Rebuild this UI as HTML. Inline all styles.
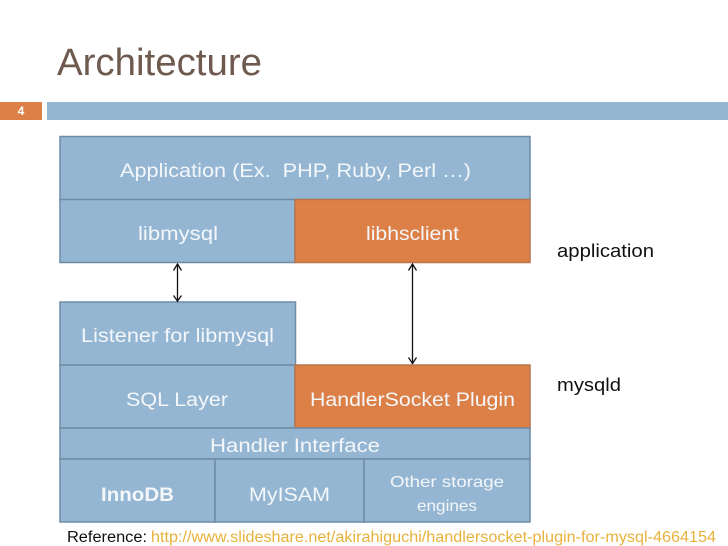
<!DOCTYPE html>
<html>
<head>
<meta charset="utf-8">
<style>
html,body{margin:0;padding:0;background:#fff}
svg{display:block}
text{font-family:"Liberation Sans",sans-serif}
.w{fill:#f4f7fa;font-size:19px}
</style>
</head>
<body>
<svg width="728" height="546" viewBox="0 0 728 546" xmlns="http://www.w3.org/2000/svg">
<rect width="728" height="546" fill="#fff"/>
<text x="57" y="75" font-size="38" fill="#6f5a50" textLength="205" lengthAdjust="spacingAndGlyphs">Architecture</text>
<rect x="0" y="102" width="42" height="18" fill="#dd8047"/>
<rect x="47" y="102" width="681" height="18" fill="#94b6d2"/>
<text x="21" y="115" font-size="12" font-weight="bold" fill="#fff" text-anchor="middle">4</text>

<g stroke="#6f8ba5" stroke-width="1.5">
<rect x="60" y="136.500" width="470" height="63" fill="#94b6d2"/>
<rect x="60" y="199.500" width="235" height="63" fill="#94b6d2"/>
<rect x="295" y="199.500" width="235" height="63" fill="#dd8047" stroke="#b9754c"/>
<rect x="60" y="302" width="235.500" height="63" fill="#94b6d2"/>
<rect x="60" y="365" width="235" height="63" fill="#94b6d2"/>
<rect x="295" y="365" width="235" height="63" fill="#dd8047" stroke="#b9754c"/>
<rect x="60" y="428" width="470" height="31" fill="#94b6d2"/>
<rect x="60" y="459" width="155" height="63" fill="#94b6d2"/>
<rect x="215" y="459" width="149" height="63" fill="#94b6d2"/>
<rect x="364" y="459" width="166" height="63" fill="#94b6d2"/>
</g>

<g class="w">
<text class="w" x="120" y="177" textLength="351" lengthAdjust="spacingAndGlyphs">Application (Ex.&#160; PHP, Ruby, Perl …)</text>
<text class="w" x="138" y="240" textLength="80" lengthAdjust="spacingAndGlyphs">libmysql</text>
<text class="w" x="366" y="240" textLength="93" lengthAdjust="spacingAndGlyphs">libhsclient</text>
<text class="w" x="81" y="342" textLength="193" lengthAdjust="spacingAndGlyphs">Listener for libmysql</text>
<text class="w" x="126" y="406" textLength="102" lengthAdjust="spacingAndGlyphs">SQL Layer</text>
<text class="w" x="310" y="406" textLength="205" lengthAdjust="spacingAndGlyphs">HandlerSocket Plugin</text>
<text class="w" x="210" y="452" textLength="170" lengthAdjust="spacingAndGlyphs">Handler Interface</text>
<text class="w" x="101" y="501" font-weight="bold" textLength="73" lengthAdjust="spacingAndGlyphs">InnoDB</text>
<text class="w" x="249" y="501" textLength="81" lengthAdjust="spacingAndGlyphs">MyISAM</text>
<text class="w" x="390" y="487" style="font-size:16px" textLength="114" lengthAdjust="spacingAndGlyphs">Other storage</text>
<text class="w" x="417" y="511" style="font-size:16px" textLength="60" lengthAdjust="spacingAndGlyphs">engines</text>
</g>

<g fill="none" stroke="#111" stroke-width="1.3">
<path d="M177.500 264V302"/>
<path d="M173.500 270.500L177.500 264L181.500 270.500"/>
<path d="M173.500 295.500L177.500 301L181.500 295.500"/>
<path d="M412.500 264V364"/>
<path d="M408.500 270.500L412.500 264L416.500 270.500"/>
<path d="M408.500 357.500L412.500 363.500L416.500 357.500"/>
</g>

<text x="557" y="257" font-size="18.500" fill="#111" textLength="97" lengthAdjust="spacingAndGlyphs">application</text>
<text x="557" y="391" font-size="18.500" fill="#111" textLength="64" lengthAdjust="spacingAndGlyphs">mysqld</text>

<text x="67" y="542" font-size="15.500" fill="#111" textLength="80" lengthAdjust="spacingAndGlyphs">Reference:</text>
<text x="151" y="542" font-size="15.500" fill="#e8b23c" textLength="565" lengthAdjust="spacingAndGlyphs">http://www.slideshare.net/akirahiguchi/handlersocket-plugin-for-mysql-4664154</text>
</svg>
</body>
</html>
